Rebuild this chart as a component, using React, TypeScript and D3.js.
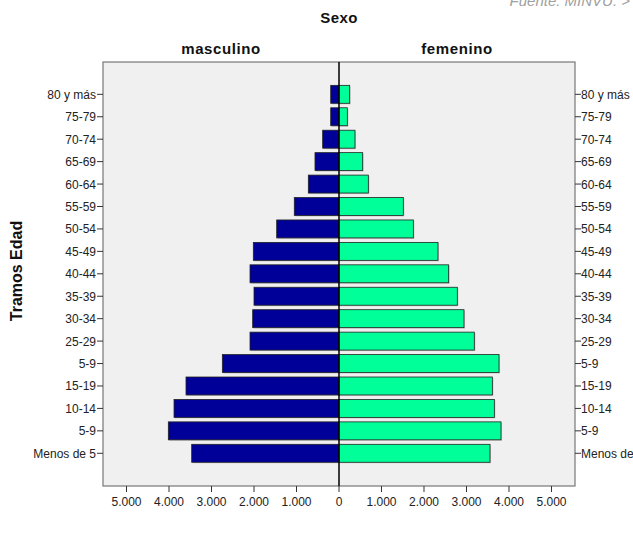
import React from "react";
import * as d3 from "d3";

const categories = ["80 y más", "75-79", "70-74", "65-69", "60-64", "55-59", "50-54", "45-49", "40-44", "35-39", "30-34", "25-29", "5-9", "15-19", "10-14", "5-9", "Menos de 5"];
const masculino = [195, 195, 384, 565, 722, 1052, 1466, 2016, 2094, 2000, 2031, 2094, 2745, 3600, 3882, 4016, 3466];
const femenino = [251, 196, 376, 557, 690, 1513, 1749, 2329, 2580, 2784, 2941, 3184, 3765, 3608, 3655, 3812, 3553];
const xTicks = [-5000, -4000, -3000, -2000, -1000, 0, 1000, 2000, 3000, 4000, 5000];

const W = 633, H = 544;
const frame = { left: 103, right: 575, top: 62, bottom: 486 };
const font = "Liberation Sans, Arial, sans-serif";

export default function App() {
  const x = d3.scaleLinear().domain([-5553, 5553]).range([frame.left, frame.right]);
  const idx = categories.map((_, i) => String(i));
  const y = d3.scaleBand().domain(idx).range([83.1, 464.5]).paddingInner(0.2).paddingOuter(0.1);
  const fmt = (v: number) => d3.format(",")(Math.abs(v)).replace(/,/g, ".");
  const bh = y.bandwidth();
  const x0 = x(0);
  return (
    <div style={{ position: "absolute", left: 0, top: 0 }}>
      <svg width={W} height={H} style={{ display: "block", fontFamily: font }}>
        <rect x={0} y={0} width={W} height={H} fill="#ffffff" />
        <text x={630} y={6} textAnchor="end" fontSize={15} fontStyle="italic" fill="#a0a0a0">Fuente: MINVU. &gt;</text>
        <text x={x0} y={23} textAnchor="middle" fontSize={15} fontWeight="bold" fill="#111" letterSpacing={0.4}>Sexo</text>
        <text x={(frame.left + x0) / 2} y={54} textAnchor="middle" fontSize={15} fontWeight="bold" fill="#111" letterSpacing={0.6}>masculino</text>
        <text x={(frame.right + x0) / 2} y={54} textAnchor="middle" fontSize={15} fontWeight="bold" fill="#111" letterSpacing={0.6}>femenino</text>
        <rect x={frame.left} y={frame.top} width={frame.right - frame.left} height={frame.bottom - frame.top} fill="#f0f0f0" stroke="#777" strokeWidth={1.2} />
        {categories.map((c, i) => {
          const yy = y(String(i))!;
          return (
            <g key={i}>
              <rect x={x(-masculino[i]) + 1} y={yy + 1} width={x0 - x(-masculino[i])} height={bh} fill="#999" opacity={0.5} />
              <rect x={x(-masculino[i])} y={yy} width={x0 - x(-masculino[i])} height={bh} fill="#000099" stroke="#222" strokeWidth={0.8} />
              <rect x={x0 + 1} y={yy + 1} width={x(femenino[i]) - x0} height={bh} fill="#999" opacity={0.5} />
              <rect x={x0} y={yy} width={x(femenino[i]) - x0} height={bh} fill="#00ff99" stroke="#222" strokeWidth={0.8} />
            </g>
          );
        })}
        <line x1={x0} x2={x0} y1={frame.top} y2={frame.bottom} stroke="#000" strokeWidth={1.5} />
        {categories.map((c, i) => {
          const cy = y(String(i))! + bh / 2;
          return (
            <g key={"t" + i} fontSize={12} fill="#222">
              <line x1={frame.left - 6} x2={frame.left} y1={cy} y2={cy} stroke="#333" />
              <text x={frame.left - 7} y={cy + 4.5} textAnchor="end">{c}</text>
              <line x1={frame.right} x2={frame.right + 6} y1={cy} y2={cy} stroke="#333" />
              <text x={frame.right + 6} y={cy + 4.5} textAnchor="start">{c}</text>
            </g>
          );
        })}
        {xTicks.map((t) => (
          <g key={"x" + t} fontSize={12} fill="#222">
            <line x1={x(t)} x2={x(t)} y1={frame.bottom} y2={frame.bottom + 6} stroke="#333" />
            <text x={x(t)} y={frame.bottom + 20} textAnchor="middle">{fmt(t)}</text>
          </g>
        ))}
        <text transform={`translate(22,271) rotate(-90)`} textAnchor="middle" fontSize={16} fontWeight="bold" fill="#111">Tramos Edad</text>
      </svg>
    </div>
  );
}
